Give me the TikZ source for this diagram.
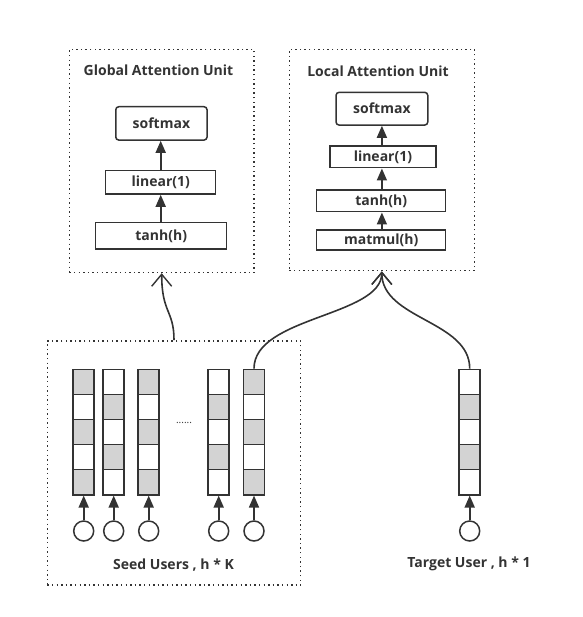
\documentclass[tikz,border=0pt]{standalone}
\usepackage{fontspec}
\setmainfont{Open Sans}
\usetikzlibrary{arrows.meta}
\definecolor{ink}{HTML}{333333}
\definecolor{cellgray}{HTML}{D3D3D3}
\begin{document}
\begin{tikzpicture}[x=1pt,y=-1pt,
  every node/.style={text=ink},
  unit/.style={draw=ink, line width=1.4pt, dash pattern=on 1.4pt off 3.2pt, inner sep=0pt},
  title/.style={font=\fontsize{14}{16}\selectfont\bfseries},
  op/.style={draw=ink, line width=1.5pt, inner sep=0pt, font=\fontsize{14}{16}\selectfont\bfseries},
  cell/.style={draw=ink, line width=1.5pt, minimum width=21pt, minimum height=25.1pt, inner sep=0pt},
  usr/.style={draw=ink, line width=1.5pt, circle, minimum size=20pt, inner sep=0pt},
  tri/.style={draw=ink, line width=1.7pt, -{Triangle[length=12pt,width=10pt]}},
  barb/.style={draw=ink, line width=1.6pt, -{Straight Barb[length=12pt,width=20pt,line width=1.4pt]}},
  lbl/.style={font=\fontsize{14}{16}\selectfont\bfseries}
]
\useasboundingbox (0,0) rectangle (582,617);
% attention units
\node[unit, minimum width=184.7pt, minimum height=223pt] (gau) at (161.7,161) {};
\node[unit, minimum width=185pt, minimum height=221.4pt] (lau) at (381.8,160) {};
\node[title] (gt) at (158.5,70) {Global Attention Unit};
\node[title] (lt) at (378,71) {Local Attention Unit};
% global ops
\node[op, rounded corners=3pt, minimum width=91.3pt, minimum height=33.3pt] (gsm) at (161.4,123.4) {softmax};
\node[op, minimum width=110pt, minimum height=23.3pt] (glin) at (160.7,182.4) {linear(1)};
\node[op, minimum width=131pt, minimum height=26.3pt] (gtanh) at (161.2,235.9) {tanh(h)};
\draw[tri] (glin.north) -- (glin.north |- gsm.south);
\draw[tri] (gtanh.north -| glin.north) -- (glin.south);
% local ops
\node[op, rounded corners=3pt, minimum width=91.7pt, minimum height=32.7pt] (lsm) at (381.9,108.7) {softmax};
\node[op, minimum width=105.7pt, minimum height=21.7pt] (llin) at (382.9,156.9) {linear(1)};
\node[op, minimum width=129pt, minimum height=21.7pt] (ltanh) at (381.2,200.9) {tanh(h)};
\node[op, minimum width=129pt, minimum height=20pt] (lmat) at (381.2,240) {matmul(h)};
\draw[tri] (llin.north -| lsm.south) -- (lsm.south);
\draw[tri] (ltanh.north -| lsm.south) -- (llin.south -| lsm.south);
\draw[tri] (lmat.north -| lsm.south) -- (ltanh.south -| lsm.south);
% seed users
\node[unit, minimum width=253.4pt, minimum height=244.3pt] (seed) at (174,463) {};
\foreach \c/\x/\p in {1/83.7/0,2/113.7/1,3/148.7/0,4/218.7/1,5/254/0,t/469.7/1}{
  \foreach \r in {0,...,4}{
    \pgfmathtruncatemacro\g{mod(\r+\p,2)}
    \ifnum\g=0 \def\fc{cellgray}\else\def\fc{white}\fi
    \node[cell, fill=\fc] (c\c-\r) at (\x,{381.85+25.1*\r}) {};
  }
  \node[usr] (u\c) at (\x,531) {};
  \draw[tri] (u\c.north) -- (c\c-4.south);
}
\node[font=\fontsize{10}{12}\selectfont] (dots) at (184,423) {......};
\node[lbl] (sl) at (173.5,565) {Seed Users , h * K};
\node[lbl] (tl) at (469,564) {Target User , h * 1};
% connectors
\draw[barb] (seed.north) .. controls +(0,-30) and +(0,40) .. (gau.south);
\draw[barb] (c5-0.north) .. controls +(0,-52) and +(0,45) .. (lau.south);
\draw[barb] (ct-0.north) .. controls +(0,-48) and +(0,48) .. (lau.south);
\end{tikzpicture}
\end{document}
